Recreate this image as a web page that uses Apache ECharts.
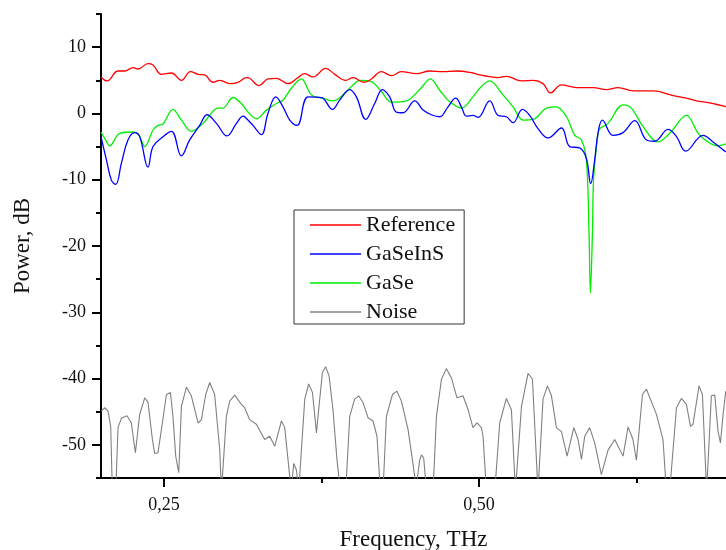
<!DOCTYPE html>
<html>
<head>
<meta charset="utf-8">
<script src="https://cdn.jsdelivr.net/npm/echarts@6/dist/echarts.min.js"></script>
<style>
html,body{margin:0;padding:0;background:#fff;}
#chart{width:726px;height:550px;}
</style>
</head>
<body>
<div id="chart"></div>
<script>
// ---- Data (Frequency in THz, Power in dB) ----
const refFreq = [0.2000,0.2048,0.2135,0.2188,0.2254,0.2294,0.2373,0.2413,0.2479,0.2559,0.2638,0.2710,0.2770,0.2823,0.2889,0.2942,0.3021,0.3087,0.3154,0.3180,0.3254,0.3325,0.3392,0.3484,0.3563,0.3617,0.3683,0.3783,0.3855,0.3942,0.4000,0.4085,0.4146,0.4225,0.4305,0.4384,0.4503,0.4609,0.4714,0.4821,0.4952,0.5006,0.5071,0.5151,0.5217,0.5337,0.5429,0.5508,0.5567,0.5654,0.5773,0.5905,0.6011,0.6103,0.6222,0.6381,0.6540,0.6646,0.6725,0.6831,0.6963];
const refPower = [5.5,4.9,6.4,6.4,6.9,6.7,7.5,7.3,5.9,6.1,5.0,6.3,5.9,5.8,4.7,5.0,4.5,4.7,5.4,5.3,4.2,5.2,5.3,4.5,5.4,6.0,5.5,6.8,5.9,5.0,5.4,4.7,5.2,6.3,5.7,6.3,6.0,6.4,6.3,6.4,6.1,5.8,5.6,5.4,5.6,4.9,5.0,4.5,3.1,4.3,3.9,3.9,3.6,3.9,3.4,3.4,2.7,2.3,1.9,1.6,1.0];

const gsisFreq = [0.2000,0.2043,0.2083,0.2117,0.2162,0.2214,0.2267,0.2307,0.2373,0.2413,0.2492,0.2559,0.2638,0.2704,0.2783,0.2841,0.2916,0.3000,0.3075,0.3127,0.3140,0.3206,0.3273,0.3325,0.3387,0.3444,0.3498,0.3556,0.3643,0.3749,0.3837,0.3894,0.3974,0.4027,0.4101,0.4172,0.4233,0.4291,0.4344,0.4397,0.4490,0.4556,0.4622,0.4688,0.4754,0.4815,0.4860,0.4900,0.4952,0.4992,0.5085,0.5151,0.5217,0.5270,0.5345,0.5402,0.5468,0.5548,0.5654,0.5720,0.5799,0.5852,0.5886,0.5918,0.5944,0.5979,0.6063,0.6143,0.6236,0.6329,0.6394,0.6500,0.6567,0.6640,0.6778,0.6857,0.6958];
const gsisPower = [-3.5,-7.0,-10.1,-10.7,-7.5,-4.0,-2.9,-3.5,-8.1,-5.0,-3.5,-2.7,-6.4,-4.0,-1.8,-0.2,-1.5,-3.4,-1.5,-0.4,-0.5,-1.8,-3.2,0.0,2.5,1.0,-1.0,-1.8,2.5,2.4,0.6,2.0,3.6,2.5,-0.9,1.5,3.6,2.5,0.2,0.1,1.9,0.5,-0.2,-0.5,1.0,2.3,1.0,-0.4,-0.3,-0.6,1.9,-0.3,-0.5,-1.4,0.6,-0.3,-2.3,-3.7,-2.2,-5.0,-5.2,-6.8,-10.6,-7.0,-3.0,-1.0,-3.3,-2.9,-1.1,-4.0,-4.2,-2.4,-3.5,-5.7,-3.3,-4.3,-5.8];

const gaseFreq = [0.2000,0.2037,0.2069,0.2148,0.2254,0.2302,0.2347,0.2413,0.2452,0.2492,0.2571,0.2638,0.2717,0.2810,0.2929,0.2968,0.3048,0.3114,0.3167,0.3233,0.3313,0.3392,0.3444,0.3511,0.3590,0.3670,0.3762,0.3841,0.3921,0.4000,0.4053,0.4146,0.4225,0.4305,0.4424,0.4529,0.4614,0.4688,0.4754,0.4860,0.4952,0.5006,0.5085,0.5190,0.5270,0.5349,0.5429,0.5535,0.5614,0.5694,0.5760,0.5813,0.5852,0.5873,0.5884,0.5900,0.5910,0.5944,0.5958,0.6024,0.6143,0.6209,0.6302,0.6421,0.6513,0.6646,0.6752,0.6897,0.6958];
const gasePower = [-2.8,-4.0,-4.9,-3.0,-2.8,-3.3,-5.0,-2.5,-1.8,-1.6,0.6,-1.0,-2.7,-1.5,0.8,0.8,2.4,1.5,0.2,-0.8,0.5,1.5,2.0,3.8,5.2,2.8,2.3,1.9,2.8,4.3,5.0,4.8,3.3,1.7,1.9,3.6,5.2,3.5,2.0,0.8,2.5,3.8,4.9,2.8,1.0,-1.0,-0.9,0.8,1.0,-0.5,-3.3,-4.0,-7.0,-18.0,-27.1,-18.0,-9.6,-3.0,-2.3,-1.5,1.3,0.8,-2.0,-4.3,-3.0,-0.3,-3.3,-4.9,-4.6];

const noiseFreq = [0.2003,0.2029,0.2056,0.2077,0.2090,0.2117,0.2135,0.2162,0.2206,0.2241,0.2273,0.2307,0.2347,0.2373,0.2408,0.2426,0.2452,0.2487,0.2519,0.2551,0.2571,0.2593,0.2617,0.2638,0.2678,0.2717,0.2770,0.2797,0.2831,0.2863,0.2902,0.2942,0.2956,0.2968,0.2995,0.3021,0.3061,0.3114,0.3140,0.3180,0.3233,0.3299,0.3339,0.3379,0.3432,0.3458,0.3498,0.3510,0.3529,0.3551,0.3569,0.3583,0.3617,0.3648,0.3678,0.3710,0.3730,0.3757,0.3783,0.3810,0.3841,0.3873,0.3900,0.3942,0.3974,0.4013,0.4045,0.4079,0.4119,0.4159,0.4190,0.4217,0.4238,0.4265,0.4313,0.4349,0.4384,0.4437,0.4490,0.4498,0.4529,0.4543,0.4561,0.4583,0.4635,0.4662,0.4702,0.4741,0.4781,0.4825,0.4873,0.4913,0.4952,0.4984,0.5019,0.5032,0.5059,0.5125,0.5164,0.5217,0.5257,0.5289,0.5337,0.5389,0.5424,0.5468,0.5480,0.5508,0.5543,0.5575,0.5614,0.5654,0.5699,0.5752,0.5786,0.5813,0.5839,0.5878,0.5918,0.5971,0.6024,0.6077,0.6143,0.6183,0.6222,0.6249,0.6297,0.6329,0.6408,0.6460,0.6487,0.6513,0.6567,0.6606,0.6646,0.6678,0.6698,0.6746,0.6773,0.6806,0.6844,0.6871,0.6897,0.6916,0.6937,0.6958];
const noisePower = [-44.9,-44.4,-44.9,-47.2,-57,-57,-47.4,-46.0,-45.6,-46.7,-51.2,-45.4,-42.9,-43.6,-49.2,-51.3,-51.2,-46.7,-42.4,-42.1,-45.7,-51.7,-54.2,-44.2,-41.3,-42.6,-46.7,-46.2,-42.4,-40.6,-42.4,-50.7,-57,-57,-45.7,-43.4,-42.5,-43.9,-44.4,-46.2,-46.9,-49.2,-48.7,-50.2,-46.4,-47.4,-54.8,-57,-52.8,-53.8,-57,-57,-43.1,-40.8,-42.1,-48.2,-44.2,-39.1,-38.2,-39.6,-44.7,-52.3,-57,-57,-45.7,-43.1,-42.6,-43.6,-45.9,-46.4,-48.7,-57,-57,-45.7,-42.4,-41.9,-43.4,-47.7,-54.8,-57,-52.3,-51.5,-52.0,-57,-57,-45.7,-40.1,-38.5,-39.9,-42.9,-42.6,-44.7,-47.4,-46.7,-47.4,-48.7,-57,-57,-46.7,-43.0,-44.7,-57,-44.2,-39.2,-40.1,-57,-57,-43.1,-41.1,-42.6,-47.4,-48.0,-51.7,-47.4,-49.2,-52.2,-48.7,-47.4,-49.7,-54.5,-50.8,-49.2,-51.7,-47.3,-49.2,-52.3,-42.4,-41.6,-45.4,-49.2,-57,-57,-44.4,-43.0,-43.9,-47.2,-46.9,-41.1,-42.4,-57,-42.6,-42.5,-48.0,-49.7,-45.4,-41.9];

const xMajorTicks = [0.25, 0.50];
const xMinorTicks = [0.375, 0.625];
const yMajorTicks = [-50, -40, -30, -20, -10, 0, 10];
const yMinorTicks = [-55, -45, -35, -25, -15, -5, 5, 15];

function pairs(xs, ys) { return xs.map((x, i) => [x, ys[i]]); }

const serif = '"Liberation Serif", "Times New Roman", serif';
const chart = echarts.init(document.getElementById('chart'), null, {renderer: 'canvas'});

const xMin = 0.2, xMax = 0.6960, yMin = -55, yMax = 15;

chart.setOption({
  animation: false,
  backgroundColor: '#fff',
  grid: {left: 101, top: 14, right: 0, bottom: 72, containLabel: false, outerBoundsMode: 'none'},
  legend: {
    orient: 'vertical',
    left: 294, top: 210,
    padding: [4, 9, 1, 16],
    icon: 'rect',
    itemWidth: 51, itemHeight: 1.5, itemGap: 7,
    borderColor: '#333', borderWidth: 1, backgroundColor: '#fff',
    textStyle: {fontFamily: serif, fontSize: 22, color: '#111', lineHeight: 21},
    data: ['Reference', 'GaSeInS', 'GaSe', 'Noise']
  },
  xAxis: [{
    type: 'value', min: xMin, max: xMax, position: 'bottom',
    name: 'Frequency, THz', nameLocation: 'middle', nameGap: 50,
    nameTextStyle: {fontFamily: serif, fontSize: 23, color: '#111'},
    axisLine: {show: true, onZero: false, lineStyle: {color: '#000', width: 2}},
    axisTick: {show: true, inside: false, length: 9, lineStyle: {color: '#000', width: 2}, customValues: xMajorTicks},
    axisLabel: {show: true, margin: 18, fontFamily: serif, fontSize: 18, color: '#111',
      customValues: xMajorTicks, formatter: v => v.toFixed(2).replace('.', ',')},
    splitLine: {show: false}
  }, {
    type: 'value', min: xMin, max: xMax, position: 'bottom',
    axisLine: {show: false, onZero: false},
    axisTick: {show: true, inside: false, length: 5, lineStyle: {color: '#000', width: 2}, customValues: xMinorTicks},
    axisLabel: {show: false},
    splitLine: {show: false}
  }],
  yAxis: [{
    type: 'value', min: yMin, max: yMax, position: 'left',
    name: 'Power, dB', nameLocation: 'middle', nameGap: 67, nameRotate: 90,
    nameTextStyle: {fontFamily: serif, fontSize: 23, color: '#111'},
    axisLine: {show: true, onZero: false, lineStyle: {color: '#000', width: 2}},
    axisTick: {show: true, inside: false, length: 9, lineStyle: {color: '#000', width: 2}, customValues: yMajorTicks},
    axisLabel: {show: true, margin: 15, fontFamily: serif, fontSize: 18, color: '#111', customValues: yMajorTicks},
    splitLine: {show: false}
  }, {
    type: 'value', min: yMin, max: yMax, position: 'left',
    axisLine: {show: false, onZero: false},
    axisTick: {show: true, inside: false, length: 5, lineStyle: {color: '#000', width: 2}, customValues: yMinorTicks},
    axisLabel: {show: false},
    splitLine: {show: false}
  }],
  series: [
    {name: 'Reference', type: 'line', data: pairs(refFreq, refPower), symbol: 'none', smooth: 0.4,
      lineStyle: {color: '#ff0000', width: 1.3}, itemStyle: {color: '#ff0000'}, z: 4},
    {name: 'GaSeInS', type: 'line', data: pairs(gsisFreq, gsisPower), symbol: 'none', smooth: 0.4,
      lineStyle: {color: '#0000ff', width: 1.3}, itemStyle: {color: '#0000ff'}, z: 3},
    {name: 'GaSe', type: 'line', data: pairs(gaseFreq, gasePower), symbol: 'none', smooth: 0.35,
      lineStyle: {color: '#00ee00', width: 1.3}, itemStyle: {color: '#00ee00'}, z: 2},
    {name: 'Noise', type: 'line', data: pairs(noiseFreq, noisePower), symbol: 'none', smooth: false,
      lineStyle: {color: '#808080', width: 1.1}, itemStyle: {color: '#808080'}, z: 1}
  ]
});
</script>
</body>
</html>
